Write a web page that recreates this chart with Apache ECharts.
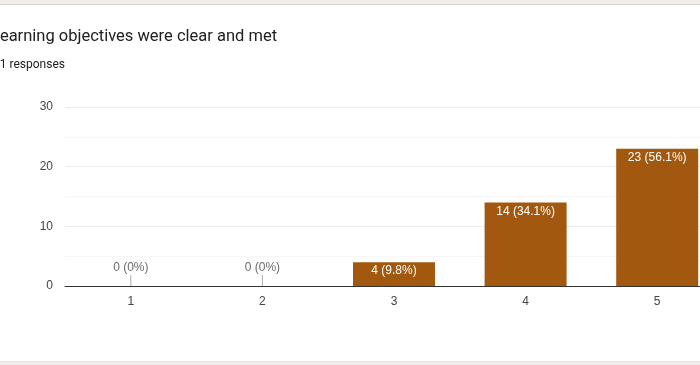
<!DOCTYPE html>
<html><head><meta charset="utf-8">
<script src="https://cdn.jsdelivr.net/npm/echarts@6/dist/echarts.min.js"></script>
<style>html,body{margin:0;padding:0;background:#fff}#c{width:700px;height:365px}</style>
</head><body><div id="c"></div>
<script>
const categories = ['1', '2', '3', '4', '5'];
const counts = [0, 0, 4, 14, 23];
const yTicks = [0, 10, 20, 30];
const titleText = 'Learning objectives were clear and met';
const subtitleText = '41 responses';

const total = counts.reduce((a, b) => a + b, 0);
const fmt = v => v + ' (' + (v === 0 ? '0' : (Math.round(v / total * 1000) / 10).toFixed(1)) + '%)';

const chart = echarts.init(document.getElementById('c'), null, {renderer: 'canvas'});
chart.setOption({
  animation: false,
  backgroundColor: '#fff',
  graphic: [
    {type: 'rect', shape: {x: 0, y: 0, width: 700, height: 4}, style: {fill: '#f3ece8'}},
    {type: 'rect', shape: {x: 0, y: 4, width: 700, height: 1}, style: {fill: '#d9d4d1'}},
    {type: 'rect', shape: {x: 0, y: 361, width: 700, height: 1}, style: {fill: '#ebe3df'}},
    {type: 'rect', shape: {x: 0, y: 362, width: 700, height: 3}, style: {fill: '#f3ece8'}},
    {type: 'text', x: -9, y: 37, style: {text: titleText, font: '16.5px Roboto', fill: '#202124', verticalAlign: 'middle'}},
    {type: 'text', x: -7, y: 65, style: {text: subtitleText, font: '12px Roboto', fill: '#202124', verticalAlign: 'middle'}}
  ],
  grid: {left: 65, width: 658, top: 107, height: 179, containLabel: false, outerBoundsMode: 'none'},
  xAxis: {
    type: 'category', data: categories, boundaryGap: true,
    axisLine: {lineStyle: {color: '#333', width: 1}},
    axisTick: {show: false},
    axisLabel: {color: '#444', fontFamily: 'Liberation Sans, Arial', fontSize: 12, margin: 10}
  },
  yAxis: {
    type: 'value', min: yTicks[0], max: yTicks[yTicks.length - 1], interval: 10,
    axisLine: {show: false}, axisTick: {show: false},
    axisLabel: {color: '#444', fontFamily: 'Liberation Sans, Arial', fontSize: 12, margin: 12},
    splitLine: {lineStyle: {color: '#ebebeb'}},
    minorTick: {show: false, splitNumber: 2},
    minorSplitLine: {show: true, lineStyle: {color: '#f6f6f6'}}
  },
  series: [
    {
      type: 'bar', data: counts, barWidth: 82,
      itemStyle: {color: '#a2580e'},
      label: {
        show: true, position: 'insideTop', distance: 3,
        color: '#fff', fontFamily: 'Liberation Sans, Arial', fontSize: 12,
        formatter: p => p.value > 0 ? fmt(p.value) : ''
      },
      z: 2
    },
    {
      type: 'scatter',
      data: counts.map(v => v === 0 ? v : '-'),
      symbol: 'rect', symbolSize: [1, 11], symbolOffset: [0, '-50%'],
      itemStyle: {color: '#999'},
      label: {
        show: true, position: 'top', distance: 1,
        color: '#444', fontFamily: 'Liberation Sans, Arial', fontSize: 12,
        formatter: p => fmt(p.value)
      },
      z: 3, silent: true
    }
  ]
});
</script></body></html>
